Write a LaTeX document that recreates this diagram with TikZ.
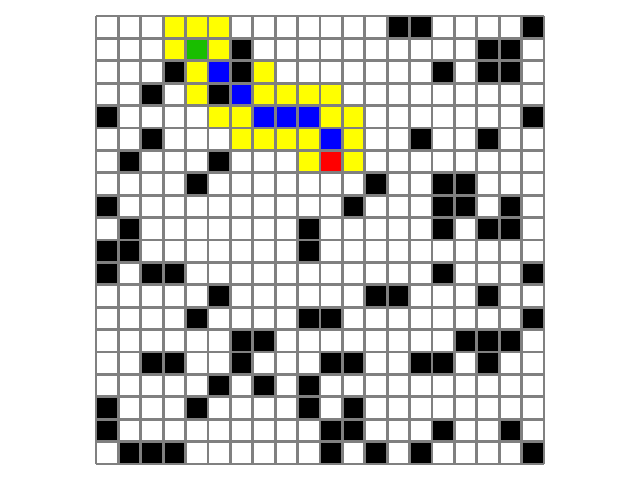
\documentclass[tikz,border=0pt]{standalone}
\begin{document}
\begin{tikzpicture}[x=1cm, y=1cm]
	\definecolor{wallblack}{RGB}{0, 0, 0}
	\definecolor{openyellow}{RGB}{255, 255, 0}
	\definecolor{pathblue}{RGB}{0, 0, 255}
	\definecolor{startgreen}{RGB}{25, 190, 0}
	\definecolor{goalred}{RGB}{255, 0, 0}
	\definecolor{gridgray}{RGB}{128, 128, 128}
	\useasboundingbox (-4.2857, -0.7143) rectangle (24.2857, 20.7143);
	% walls
	\foreach \c/\r in {13/0, 14/0, 19/0, 6/1, 17/1, 18/1, 3/2, 6/2, 15/2, 17/2, 18/2,
		2/3, 5/3, 0/4, 19/4, 2/5, 14/5, 17/5, 1/6, 5/6, 4/7, 12/7, 15/7, 16/7,
		0/8, 11/8, 15/8, 16/8, 18/8, 1/9, 9/9, 15/9, 17/9, 18/9, 0/10, 1/10, 9/10,
		0/11, 2/11, 3/11, 15/11, 19/11, 5/12, 12/12, 13/12, 17/12, 4/13, 9/13, 10/13, 19/13,
		6/14, 7/14, 16/14, 17/14, 18/14, 2/15, 3/15, 6/15, 10/15, 11/15, 14/15, 15/15, 17/15,
		5/16, 7/16, 9/16, 0/17, 4/17, 9/17, 11/17, 0/18, 10/18, 11/18, 15/18, 18/18,
		1/19, 2/19, 3/19, 10/19, 12/19, 14/19, 19/19}
		\fill[wallblack] (\c, 19-\r) rectangle ++(1, 1);
	% visited cells
	\foreach \c/\r in {3/0, 4/0, 5/0, 3/1, 5/1, 4/2, 7/2, 4/3, 7/3, 8/3, 9/3, 10/3,
		5/4, 6/4, 10/4, 11/4, 6/5, 7/5, 8/5, 9/5, 11/5, 9/6, 11/6}
		\fill[openyellow] (\c, 19-\r) rectangle ++(1, 1);
	% path
	\foreach \c/\r in {5/2, 6/3, 7/4, 8/4, 9/4, 10/5}
		\fill[pathblue] (\c, 19-\r) rectangle ++(1, 1);
	\fill[startgreen] (4, 18) rectangle ++(1, 1);
	\fill[goalred] (10, 13) rectangle ++(1, 1);
	\draw[gridgray, line width=3.6pt] (0, 0) grid (20, 20);
\end{tikzpicture}
\end{document}
